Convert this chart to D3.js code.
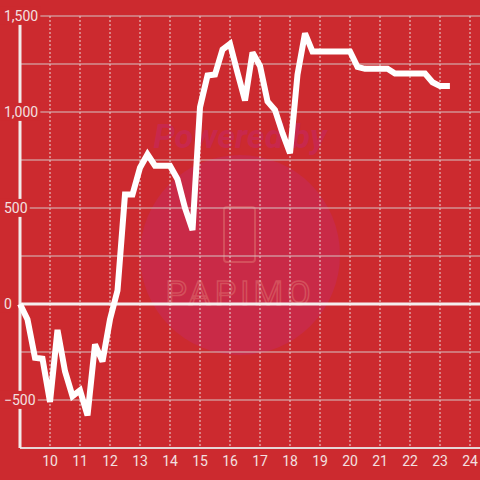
<!DOCTYPE html>
<html>
<head>
<meta charset="utf-8">
<script src="https://cdn.jsdelivr.net/npm/d3@7"></script>
<style>
  html, body { margin: 0; padding: 0; background: #cc2a2f; }
  #chart { width: 480px; height: 480px; }
  text { font-family: Roboto, "Liberation Sans", sans-serif; }
</style>
</head>
<body>
<div id="chart"></div>
<script>
// hours of the day (15 min steps) and the running value
var hours = [9, 9.25, 9.5, 9.75, 10, 10.25, 10.5, 10.75, 11, 11.25, 11.5, 11.75,
  12, 12.25, 12.5, 12.75, 13, 13.25, 13.5, 13.75, 14, 14.25, 14.5, 14.75,
  15, 15.25, 15.5, 15.75, 16, 16.25, 16.5, 16.75, 17, 17.25, 17.5, 17.75,
  18, 18.25, 18.5, 18.75, 19, 19.25, 19.5, 19.75, 20, 20.25, 20.5, 20.75,
  21, 21.25, 21.5, 21.75, 22, 22.25, 22.5, 22.75, 23, 23.33];
var values = [0, -80, -280, -285, -510, -135, -350, -480, -450, -580, -210, -300,
  -80, 70, 570, 570, 710, 780, 720, 720, 720, 650, 500, 385,
  1025, 1190, 1195, 1325, 1355, 1205, 1060, 1310, 1240, 1055, 1010, 890,
  785, 1195, 1410, 1315, 1315, 1315, 1315, 1315, 1315, 1235, 1225, 1225,
  1225, 1225, 1200, 1200, 1200, 1200, 1200, 1155, 1135, 1135];
var xTicks = [10, 11, 12, 13, 14, 15, 16, 17, 18, 19, 20, 21, 22, 23, 24];
var yGrid = [-500, -250, 250, 500, 750, 1000, 1250, 1500];
var yLabels = [-500, 0, 500, 1000, 1500];

var W = 480, H = 480;
var svg = d3.select("#chart").append("svg")
  .attr("width", W).attr("height", H);

svg.append("rect").attr("width", W).attr("height", H).attr("fill", "#cc2a2f");

var x = d3.scaleLinear().domain([9, 24.333]).range([20, 480]);
var y = d3.scaleLinear().domain([-750, 1500]).range([448, 16]);

// watermark
var wm = svg.append("g");
wm.append("circle").attr("cx", 240).attr("cy", 255).attr("r", 100).attr("fill", "#c92a47");
wm.append("text").attr("x", 240).attr("y", 148).attr("text-anchor", "middle")
  .attr("font-size", 34).attr("font-weight", "bold").attr("font-style", "italic")
  .attr("fill", "#c8284c").text("Powered by");
wm.append("rect").attr("x", 224).attr("y", 207).attr("width", 31).attr("height", 55)
  .attr("rx", 3).attr("fill", "none").attr("stroke", "#d4505c").attr("stroke-width", 2);
wm.append("text").attr("x", 240).attr("y", 305).attr("text-anchor", "middle")
  .attr("font-size", 34).attr("letter-spacing", 4).attr("fill", "none")
  .attr("stroke", "#d4505c").attr("stroke-width", 1.5).text("PAPIMO");

// grid
svg.append("g").selectAll("line").data(xTicks).enter().append("line")
  .attr("x1", d => x(d)).attr("x2", d => x(d))
  .attr("y1", y(1500)).attr("y2", y(-750))
  .attr("stroke", "#ead8d8").attr("stroke-dasharray", "2,2").attr("stroke-width", 1);

svg.append("g").selectAll("line").data(yGrid).enter().append("line")
  .attr("x1", x(9)).attr("x2", W)
  .attr("y1", d => y(d)).attr("y2", d => y(d))
  .attr("stroke", "#d6c4c4").attr("stroke-width", 1);

// bottom axis and zero line
svg.append("line").attr("x1", x(9)).attr("x2", W).attr("y1", y(-750)).attr("y2", y(-750))
  .attr("stroke", "#e6d6d6").attr("stroke-width", 2);
svg.append("line").attr("x1", x(9)).attr("x2", x(9)).attr("y1", y(1500)).attr("y2", y(-750))
  .attr("stroke", "#f2eaea").attr("stroke-width", 3);
svg.append("line").attr("x1", x(9)).attr("x2", W).attr("y1", y(0)).attr("y2", y(0))
  .attr("stroke", "#f4eeee").attr("stroke-width", 3);

// y labels with background boxes
var fmt = d3.format(",");
var yl = svg.append("g").selectAll("g").data(yLabels).enter().append("g");
yl.append("text")
  .attr("x", 4).attr("y", d => y(d)).attr("dy", "0.35em")
  .attr("font-size", 14).attr("fill", "#f3e0e0")
  .text(d => fmt(d));
yl.each(function () {
  var t = d3.select(this).select("text");
  var b = t.node().getBBox();
  d3.select(this).insert("rect", "text")
    .attr("x", 0).attr("y", b.y - 1).attr("width", b.x + b.width + 2).attr("height", b.height + 2)
    .attr("fill", "#cc2a2f");
});

// x labels
svg.append("g").selectAll("text").data(xTicks).enter().append("text")
  .attr("x", d => x(d)).attr("y", 466).attr("text-anchor", "middle")
  .attr("font-size", 14).attr("fill", "#f3e0e0")
  .text(d => d);

// data line
var line = d3.line().x((d, i) => x(hours[i])).y(d => y(d));
svg.append("path").datum(values)
  .attr("d", line)
  .attr("fill", "none").attr("stroke", "#ffffff").attr("stroke-width", 6)
  .attr("stroke-linejoin", "miter").attr("stroke-miterlimit", 3);
</script>
</body>
</html>
